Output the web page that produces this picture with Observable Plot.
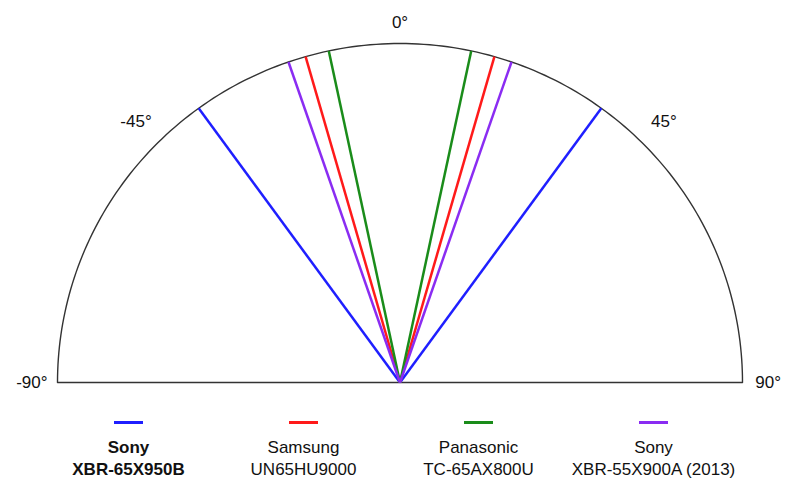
<!DOCTYPE html>
<html>
<head>
<meta charset="utf-8">
<script src="https://cdn.jsdelivr.net/npm/d3@7"></script>
<script src="https://cdn.jsdelivr.net/npm/@observablehq/plot@0.6"></script>
<style>
  body { margin: 0; background: #fff; font-family: "Liberation Sans", Arial, Helvetica, sans-serif; }
  #chart svg { display: block; }
  #legend { display: flex; padding-left: 41px; margin-top: 26px; }
  .item { width: 175px; text-align: center; font-size: 17px; color: #111; line-height: 22px; }
  .sw { width: 29px; height: 3px; margin: 0 auto 13px auto; }
</style>
</head>
<body>
<div id="chart"></div>
<div id="legend"></div>
<script>
const brands = ["Sony", "Samsung", "Panasonic", "Sony"];
const models = ["XBR-65X950B", "UN65HU9000", "TC-65AX800U", "XBR-55X900A (2013)"];
const viewingAngles = [36, 16, 12, 19];
const colors = ["#1f1fff", "#ff1a1a", "#1a8c1a", "#8a2cf2"];
const bold = [true, false, false, false];
const tickAngles = [-90, -45, 0, 45, 90];

const rad = d => d * Math.PI / 180;

// semicircle outline (geometry, closed along the baseline)
const arc = d3.range(-90, 90.5, 1).map(a => ({x: Math.sin(rad(a)), y: Math.cos(rad(a))}));
arc.push({x: Math.sin(rad(-90)), y: Math.cos(rad(-90))});

const lines = [];
viewingAngles.forEach((v, i) => {
  [-v, v].forEach(a => lines.push({a, i}));
});

const labelR = a => a === 0 ? 1.063 : Math.abs(a) === 90 ? 1.075 : 1.09;

const chart = Plot.plot({
  width: 792,
  height: 395,
  marginLeft: 57,
  marginRight: 50,
  marginTop: 43,
  marginBottom: 13,
  x: {domain: [-1, 1], axis: null},
  y: {domain: [0, 1], axis: null},
  style: {fontFamily: "Liberation Sans, Arial, sans-serif", fontSize: "17px", background: "#fff", overflow: "visible"},
  marks: [
    Plot.line(arc, {x: "x", y: "y", stroke: "#333", strokeWidth: 1.4, curve: "linear"}),
    Plot.link(lines, {
      x1: 0, y1: 0,
      x2: d => Math.sin(rad(d.a)), y2: d => Math.cos(rad(d.a)),
      stroke: d => colors[d.i], strokeWidth: 2.5
    }),
    Plot.text(tickAngles, {
      x: a => labelR(a) * Math.sin(rad(a)),
      y: a => labelR(a) * Math.cos(rad(a)),
      text: a => a + "°",
      fill: "#111",
      fontSize: 17
    })
  ]
});
document.getElementById("chart").appendChild(chart);

const legend = document.getElementById("legend");
brands.forEach((b, i) => {
  const it = document.createElement("div");
  it.className = "item";
  if (bold[i]) it.style.fontWeight = "bold";
  const sw = document.createElement("div");
  sw.className = "sw";
  sw.style.background = colors[i];
  it.appendChild(sw);
  const t1 = document.createElement("div"); t1.textContent = b;
  const t2 = document.createElement("div"); t2.textContent = models[i];
  it.appendChild(t1); it.appendChild(t2);
  legend.appendChild(it);
});
</script>
</body>
</html>
